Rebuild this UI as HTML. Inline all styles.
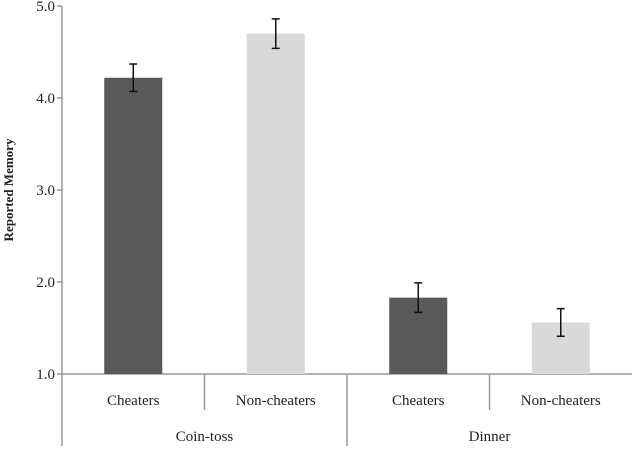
<!DOCTYPE html>
<html><head><style>body{margin:0;background:#fff}svg text{font-family:"Liberation Serif",serif;fill:#222}</style></head>
<body>
<svg id="c" width="640" height="446"></svg>
<script>
const categories=["Cheaters","Non-cheaters","Cheaters","Non-cheaters"];
const groups=["Coin-toss","Dinner"];
const values=[4.22,4.70,1.83,1.56];
const errors=[0.15,0.16,0.16,0.15];
const colors=["#595959","#d9d9d9","#595959","#d9d9d9"];
const ticks=[1.0,2.0,3.0,4.0,5.0];
const svg=document.getElementById('c');
const NS='http://www.w3.org/2000/svg';
const x0=62,x1=632,yTop=6,yBot=374,vmin=1,vmax=5;
const y=v=>yBot-(v-vmin)/(vmax-vmin)*(yBot-yTop);
const slot=(x1-x0)/categories.length;
const cx=i=>x0+slot*(i+0.5);
function mk(t,a,txt){const e=document.createElementNS(NS,t);for(const k in a)e.setAttribute(k,a[k]);if(txt!=null)e.textContent=txt;svg.appendChild(e);return e;}
let e;
e=mk('line',{x1:x0,y1:yTop,x2:x0,y2:446,stroke:'#999','stroke-width':1.5});

e=mk('line',{x1:x0,y1:yBot,x2:x1,y2:yBot,stroke:'#999','stroke-width':1.5});

ticks.forEach(t=>{
 e=mk('line',{x1:x0-5,y1:y(t),x2:x0,y2:y(t),stroke:'#999','stroke-width':1.5});
 
 e=mk('text',{x:x0-7,y:y(t)+5,'text-anchor':'end','font-size':15},t.toFixed(1));
 
});
e=mk('text',{transform:'translate(13,190) rotate(-90)','text-anchor':'middle','font-size':13,'font-weight':'bold'},'Reported Memory');

const bw=58;
values.forEach((v,i)=>{
 e=mk('rect',{x:cx(i)-bw/2,y:y(v),width:bw,height:yBot-y(v),fill:colors[i]});
 
 const hi=y(v+errors[i]),lo=y(v-errors[i]);
 e=mk('path',{d:`M${cx(i)},${hi}V${lo}M${cx(i)-4},${hi}H${cx(i)+4}M${cx(i)-4},${lo}H${cx(i)+4}`,stroke:'#111','stroke-width':1.5,fill:'none'});
 
 e=mk('text',{x:cx(i),y:405,'text-anchor':'middle','font-size':15},categories[i]);
 
 if(i%2===1){e=mk('line',{x1:x0+slot*i,y1:yBot,x2:x0+slot*i,y2:410,stroke:'#999','stroke-width':1.5});
 }
});
groups.forEach((g,j)=>{
 e=mk('text',{x:x0+slot*(2*j+1),y:441,'text-anchor':'middle','font-size':15},g);
 
 if(j>0){e=mk('line',{x1:x0+slot*2*j,y1:yBot,x2:x0+slot*2*j,y2:446,stroke:'#999','stroke-width':1.5});
 }
});
</script>
</body></html>
